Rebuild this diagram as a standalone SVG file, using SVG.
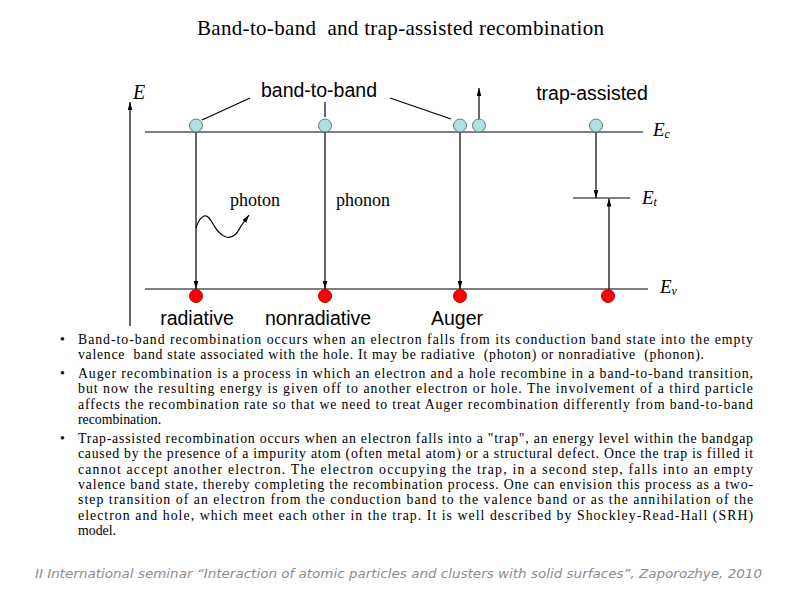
<svg xmlns="http://www.w3.org/2000/svg" width="800" height="600" viewBox="0 0 800 600">
<style>
.ln{stroke:#000;stroke-width:1.2;fill:none}
.ar{stroke:#000;stroke-width:1.2;fill:none;marker-end:url(#ah)}
.el{fill:#b3dde0;stroke:#5a7f83;stroke-width:1}
.ho{fill:#ff0000;stroke:#c00000;stroke-width:1}
.sans{font-family:"Liberation Sans",Arial,sans-serif;font-size:19.5px;fill:#000}
.ser{font-family:"Liberation Serif","Times New Roman",serif;fill:#000}
.lab{font-size:18px}
.it{font-style:italic}
.body{font-family:"Liberation Serif","Times New Roman",serif;font-size:13.8px;fill:#000}
.pre{white-space:pre}
.foot{font-family:"DejaVu Sans",Verdana,sans-serif;font-style:italic;font-size:12px;fill:#8c8c8c}
</style>
<defs>
<marker id="ah" viewBox="0 0 10 6" refX="10" refY="3" markerWidth="8" markerHeight="5" markerUnits="userSpaceOnUse" orient="auto">
<path d="M0,0 L10,3 L0,6 z" fill="#000"/>
</marker>
</defs>

<text class="ser pre" x="197" y="34.5" font-size="21" textLength="407" lengthAdjust="spacing">Band-to-band  and trap-assisted recombination</text>

<g id="levels">
<line class="ln" x1="145" y1="132" x2="643" y2="132"/>
<line class="ln" x1="145" y1="289" x2="648" y2="289"/>
<line class="ln" x1="573" y1="198" x2="630" y2="198"/>
</g>

<g id="connectors">
<line class="ar" x1="130" y1="326" x2="130" y2="102"/>
<line class="ar" x1="196" y1="132" x2="196" y2="289"/>
<line class="ar" x1="325" y1="132" x2="325" y2="289"/>
<line class="ar" x1="460" y1="132" x2="460" y2="289"/>
<line class="ar" x1="479" y1="120" x2="479" y2="88"/>
<line class="ar" x1="596" y1="132" x2="596" y2="198"/>
<line class="ar" x1="609" y1="289" x2="609" y2="198.5"/>
<path class="ar" d="M196,228 C199,218 204,214 208,217 C213,221 216,234 226,237 C234,239 238,232 241,226 L249,215"/>
<line class="ln" x1="202" y1="120" x2="250" y2="98"/>
<line class="ln" x1="325" y1="102" x2="325" y2="117"/>
<line class="ln" x1="390" y1="98" x2="451" y2="119"/>
</g>

<g id="electrons">
<circle class="el" cx="196" cy="125.5" r="6.5"/>
<circle class="el" cx="325" cy="125.5" r="6.5"/>
<circle class="el" cx="460" cy="125.5" r="6.5"/>
<circle class="el" cx="479" cy="125.5" r="6.5"/>
<circle class="el" cx="596" cy="125.5" r="6.5"/>
</g>
<g id="holes">
<circle class="ho" cx="196" cy="296" r="6.5"/>
<circle class="ho" cx="325" cy="296" r="6.5"/>
<circle class="ho" cx="460" cy="296" r="6.5"/>
<circle class="ho" cx="608" cy="296" r="6.5"/>
</g>

<g id="labels">
<text class="ser it" x="133" y="99" font-size="20">E</text>
<text class="ser it" x="653" y="136" font-size="19">E<tspan font-size="12" dy="2">c</tspan></text>
<text class="ser it" x="642" y="204" font-size="19">E<tspan font-size="12" dy="2">t</tspan></text>
<text class="ser it" x="660" y="293" font-size="19">E<tspan font-size="12" dy="2">v</tspan></text>
<text class="sans" x="319" y="97" text-anchor="middle">band-to-band</text>
<text class="sans" x="592" y="100" text-anchor="middle">trap-assisted</text>
<text class="ser lab" x="230" y="206">photon</text>
<text class="ser lab" x="336" y="206">phonon</text>
<text class="sans" x="197" y="325" text-anchor="middle">radiative</text>
<text class="sans" x="318" y="325" text-anchor="middle">nonradiative</text>
<text class="sans" x="457" y="325" text-anchor="middle">Auger</text>
</g>

<g id="bullets" class="body">
<text x="60" y="344">•</text>
<text x="60" y="378">•</text>
<text x="60" y="443">•</text>
<text class="pre"><tspan x="78" y="344" textLength="675" lengthAdjust="spacing">Band-to-band recombination occurs when an electron falls from its conduction band state into the empty</tspan><tspan x="78" y="359.3" textLength="626" lengthAdjust="spacing">valence  band state associated with the hole. It may be radiative  (photon) or nonradiative  (phonon).</tspan></text>
<text><tspan x="78" y="378" textLength="675" lengthAdjust="spacing">Auger recombination is a process in which an electron and a hole recombine in a band-to-band transition,</tspan><tspan x="78" y="393.3" textLength="675" lengthAdjust="spacing">but now the resulting energy is given off to another electron or hole. The involvement of a third particle</tspan><tspan x="78" y="408.6" textLength="675" lengthAdjust="spacing">affects the recombination rate so that we need to treat Auger recombination differently from band-to-band</tspan><tspan x="78" y="423.9">recombination.</tspan></text>
<text><tspan x="78" y="443" textLength="675" lengthAdjust="spacing">Trap-assisted recombination occurs when an electron falls into a "trap", an energy level within the bandgap</tspan><tspan x="78" y="458.3" textLength="675" lengthAdjust="spacing">caused by the presence of a impurity atom (often metal atom) or a structural defect. Once the trap is filled it</tspan><tspan x="78" y="473.6" textLength="675" lengthAdjust="spacing">cannot accept another electron. The electron occupying the trap, in a second step, falls into an empty</tspan><tspan x="78" y="488.9" textLength="675" lengthAdjust="spacing">valence band state, thereby completing the recombination process. One can envision this process as a two-</tspan><tspan x="78" y="504.2" textLength="675" lengthAdjust="spacing">step transition of an electron from the conduction band to the valence band or as the annihilation of the</tspan><tspan x="78" y="519.5" textLength="675" lengthAdjust="spacing">electron and hole, which meet each other in the trap. It is well described by Shockley-Read-Hall (SRH)</tspan><tspan x="78" y="534.8">model.</tspan></text>
</g>

<text class="foot" x="35" y="578" textLength="727" lengthAdjust="spacingAndGlyphs">II International seminar “Interaction of atomic particles and clusters with solid surfaces”, Zaporozhye, 2010</text>
</svg>
